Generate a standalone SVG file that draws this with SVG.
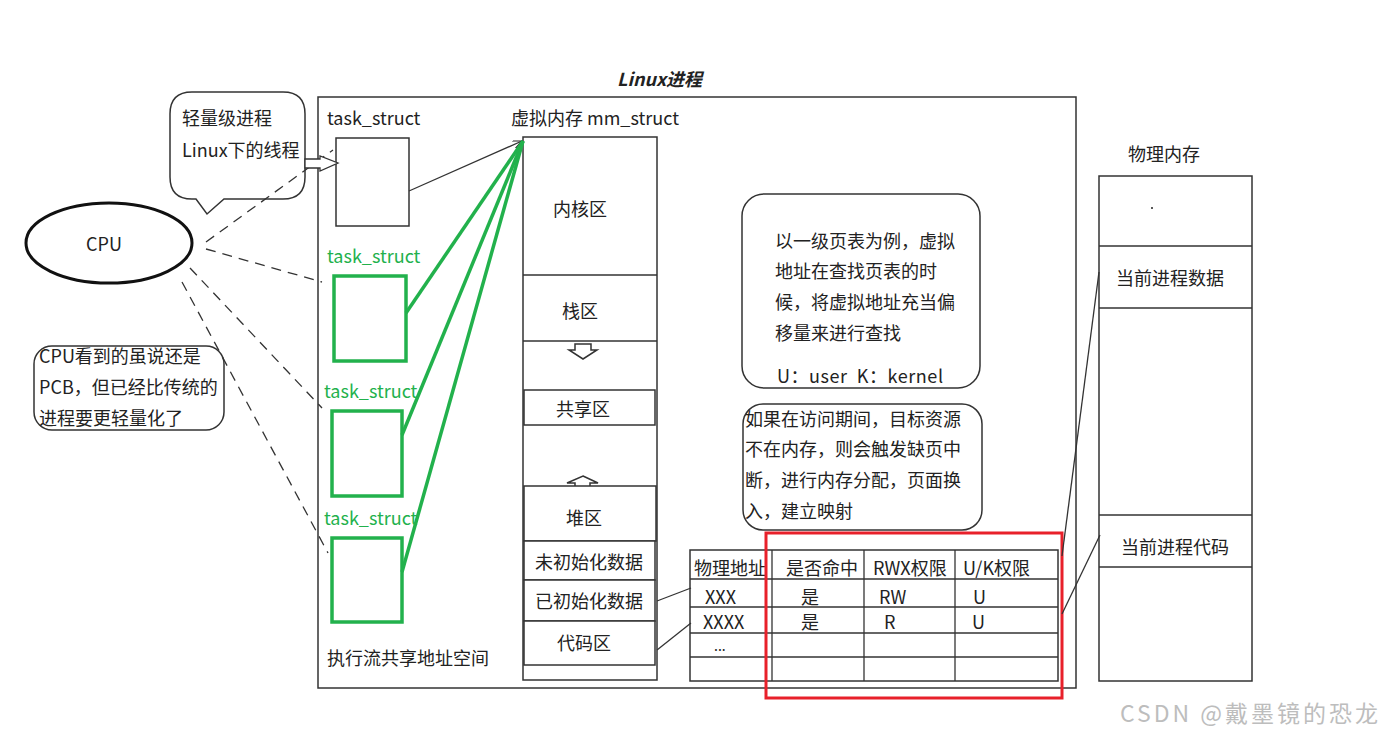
<svg xmlns="http://www.w3.org/2000/svg" width="1384" height="736" viewBox="0 0 1384 736">
<style>
text{font-family:"Noto Sans CJK SC","Noto Sans",sans-serif;font-size:18px;fill:#222}
.g{fill:#22b14c}
.c{text-anchor:middle}
.ln{fill:none;stroke:#333;stroke-width:1.3}
.box{fill:#fff;stroke:#333;stroke-width:1.5}
.gb{fill:#fff;stroke:#22b14c;stroke-width:3.5}
.gl{stroke:#22b14c;stroke-width:3.5;fill:none}
.dash{stroke:#333;stroke-width:1.3;stroke-dasharray:10 7;fill:none}
.wm{fill:#bdbdbd;font-size:23px}
</style>
<defs>
<marker id="ah" markerWidth="10" markerHeight="8" refX="9" refY="4" orient="auto" markerUnits="userSpaceOnUse">
<path d="M0,0 L9,4 L0,8" fill="none" stroke="#222" stroke-width="1.2"/>
</marker>
</defs>
<rect width="1384" height="736" fill="#fff"/>

<text x="617" y="86" style="font-weight:bold;font-style:italic">Linux进程</text>

<g id="process-box">
<rect x="318" y="97" width="758" height="591" class="box"/>
</g>

<g id="cpu">
<ellipse cx="109" cy="243" rx="83" ry="40" fill="#fff" stroke="#111" stroke-width="3"/>
<text x="104" y="251" class="c">CPU</text>
</g>

<g id="note-lwp">
<path d="M192,92 H283 Q305,92 305,114 V177 Q305,199 283,199 H224 L207,214 L196,199 H192 Q170,199 170,177 V114 Q170,92 192,92 Z" class="box"/>
<text x="182" y="125">轻量级进程</text>
<text x="182" y="157">Linux下的线程</text>
</g>

<g id="note-pcb">
<rect x="34" y="346" width="190" height="84" rx="18" class="box"/>
<text x="39" y="363">CPU看到的虽说还是</text>
<text x="39" y="394">PCB，但已经比传统的</text>
<text x="39" y="425">进程要更轻量化了</text>
</g>

<g id="task0">
<text x="327" y="125">task_struct</text>
<rect x="336" y="138" width="73" height="88" class="box"/>
</g>
<g id="task1">
<text x="327" y="263" class="g">task_struct</text>
<rect x="334" y="276" width="72" height="85" class="gb"/>
</g>
<g id="task2">
<text x="324" y="398" class="g">task_struct</text>
<rect x="332" y="411" width="70" height="85" class="gb"/>
</g>
<g id="task3">
<text x="324" y="525" class="g">task_struct</text>
<rect x="332" y="538" width="70" height="84" class="gb"/>
</g>
<text x="327" y="665">执行流共享地址空间</text>

<g id="mm-struct">
<text x="511" y="125">虚拟内存 mm_struct</text>
<rect x="523" y="137" width="134" height="543" class="box"/>
<line x1="523" y1="275" x2="657" y2="275" class="ln"/>
<line x1="523" y1="341" x2="657" y2="341" class="ln"/>
<text x="580" y="216" class="c">内核区</text>
<text x="580" y="318" class="c">栈区</text>
<path d="M575,344 H591 V350 H597 L583,359 L569,350 H575 Z" class="box" stroke-width="1.2"/>
<rect x="524" y="390" width="131" height="35" class="box"/>
<text x="583" y="416" class="c">共享区</text>
<path d="M583,476 L598,483 H590 V488 H575 V483 H567 Z" class="box" stroke-width="1.2"/>
<rect x="524" y="486" width="132" height="55" class="box"/>
<text x="584" y="525" class="c">堆区</text>
<rect x="524" y="541" width="131" height="39" class="box" stroke-width="1.8"/>
<text x="589" y="569" class="c">未初始化数据</text>
<rect x="524" y="580" width="131" height="41" class="box" stroke-width="1.8"/>
<text x="589" y="608" class="c">已初始化数据</text>
<rect x="524" y="621" width="131" height="44" class="box" stroke-width="1.8"/>
<text x="584" y="650" class="c">代码区</text>
</g>

<g id="note-pagetable">
<rect x="742" y="194" width="238" height="194" rx="22" class="box"/>
<text x="775" y="248">以一级页表为例，虚拟</text>
<text x="775" y="278">地址在查找页表的时</text>
<text x="775" y="309">候，将虚拟地址充当偏</text>
<text x="775" y="340">移量来进行查找</text>
<text x="777" y="383" textLength="166" xml:space="preserve">U：user  K：kernel</text>
</g>

<g id="note-pagefault">
<rect x="743" y="404" width="239" height="126" rx="20" class="box"/>
<text x="745" y="426">如果在访问期间，目标资源</text>
<text x="745" y="456">不在内存，则会触发缺页中</text>
<text x="745" y="487">断，进行内存分配，页面换</text>
<text x="745" y="518">入，建立映射</text>
</g>

<g id="page-table">
<rect x="690" y="550" width="368" height="131" class="box"/>
<line x1="690" y1="579" x2="1058" y2="579" class="ln" stroke-width="1.5"/>
<line x1="690" y1="607" x2="1058" y2="607" class="ln" stroke-width="1.5"/>
<line x1="690" y1="633" x2="1058" y2="633" class="ln" stroke-width="1.5"/>
<line x1="690" y1="657" x2="1058" y2="657" class="ln" stroke-width="1.5"/>
<line x1="772" y1="550" x2="772" y2="681" class="ln" stroke-width="2.2"/>
<line x1="864" y1="550" x2="864" y2="681" class="ln" stroke-width="1.5"/>
<line x1="955" y1="550" x2="955" y2="681" class="ln" stroke-width="1.5"/>
<text x="694" y="575">物理地址</text>
<text x="786" y="575">是否命中</text>
<text x="873" y="575">RWX权限</text>
<text x="963" y="575">U/K权限</text>
<text x="705" y="604">XXX</text>
<text x="801" y="604">是</text>
<text x="879" y="604">RW</text>
<text x="973" y="604">U</text>
<text x="703" y="629">XXXX</text>
<text x="801" y="629">是</text>
<text x="884" y="629">R</text>
<text x="972" y="629">U</text>
<text x="714" y="651" style="font-size:14px">...</text>
<rect x="766" y="533" width="296" height="165" fill="none" stroke="#e8202a" stroke-width="3"/>
</g>

<g id="phys-mem">
<text x="1128" y="161">物理内存</text>
<rect x="1099" y="176" width="153" height="505" class="box"/>
<line x1="1099" y1="246" x2="1252" y2="246" class="ln"/>
<line x1="1099" y1="308" x2="1252" y2="308" class="ln"/>
<line x1="1099" y1="515" x2="1252" y2="515" class="ln"/>
<line x1="1099" y1="567" x2="1252" y2="567" class="ln"/>
<circle cx="1152" cy="208" r="1" fill="#222"/>
<text x="1116" y="285">当前进程数据</text>
<text x="1121" y="554">当前进程代码</text>
</g>

<g id="connectors">
<line x1="206" y1="242" x2="333" y2="150" class="dash"/>
<line x1="206" y1="249" x2="322" y2="282" class="dash"/>
<line x1="190" y1="268" x2="322" y2="408" class="dash"/>
<line x1="182" y1="282" x2="328" y2="553" class="dash"/>
<path d="M305,159 H320 V156 L338,163 L320,171 V168 H305 Z" fill="#fff" stroke="#333" stroke-width="1.3"/>
<line x1="409" y1="191" x2="522" y2="141" class="ln" marker-end="url(#ah)"/>
<line x1="406" y1="313" x2="523" y2="141" class="gl"/>
<line x1="402" y1="435" x2="523" y2="141" class="gl"/>
<line x1="402" y1="572" x2="523" y2="141" class="gl"/>
<line x1="657" y1="601" x2="691" y2="588" class="ln"/>
<line x1="657" y1="650" x2="691" y2="623" class="ln"/>
<line x1="1062" y1="556" x2="1099" y2="272" class="ln"/>
<line x1="1062" y1="614" x2="1100" y2="535" class="ln"/>
</g>

<text x="1120" y="722" class="wm" textLength="258">CSDN @戴墨镜的恐龙</text>
</svg>
